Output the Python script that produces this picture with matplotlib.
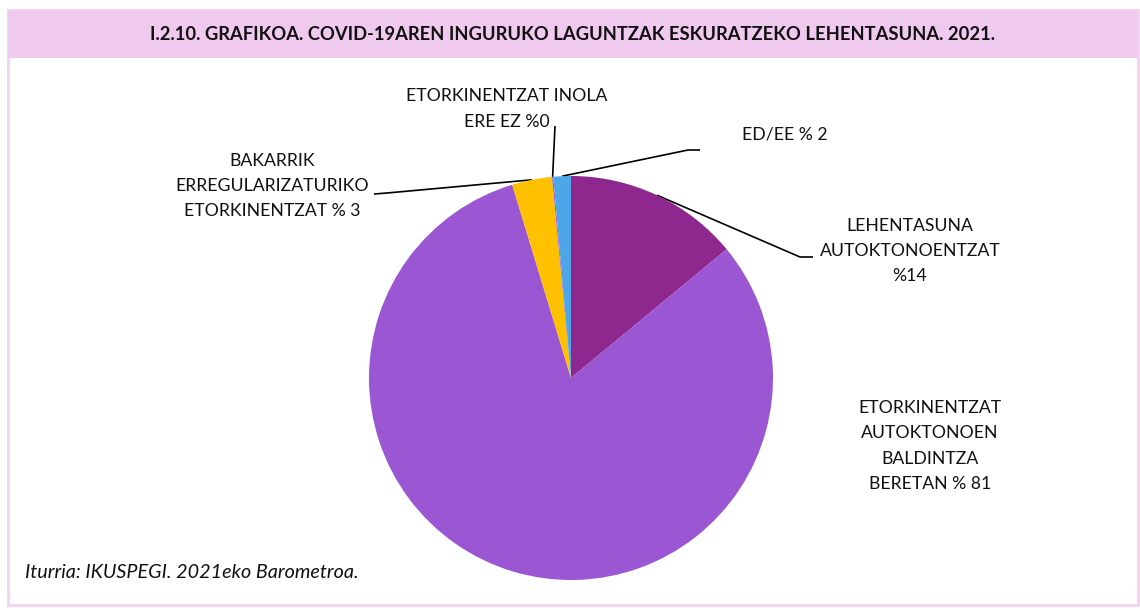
import numpy as np
import matplotlib
matplotlib.use("Agg")
import matplotlib.pyplot as plt
from matplotlib.patches import Rectangle

# ---- data ----
categories = [
    "LEHENTASUNA\nAUTOKTONOENTZAT\n%14",
    "ETORKINENTZAT\nAUTOKTONOEN\nBALDINTZA\nBERETAN % 81",
    "BAKARRIK\nERREGULARIZATURIKO\nETORKINENTZAT % 3",
    "ETORKINENTZAT INOLA\nERE EZ %0",
    "ED/EE % 2",
]
values = [14.0, 81.3, 3.2, 0.1, 1.4]
colors = ["#8E278E", "#9B57D3", "#FFC000", "#9B57D3", "#4CA6E8"]
title = "I.2.10. GRAFIKOA. COVID-19AREN INGURUKO LAGUNTZAK ESKURATZEKO LEHENTASUNA. 2021."
source = "Iturria: IKUSPEGI. 2021eko Barometroa."

W, H = 1140, 608
fig = plt.figure(figsize=(W / 100, H / 100), dpi=100)
plt.rcParams['font.family'] = ['Lato', 'DejaVu Sans']

# overlay axes in pixel coordinates
ov = fig.add_axes([0, 0, 1, 1])
ov.set_xlim(0, W)
ov.set_ylim(H, 0)
ov.axis("off")

# frame and title band
ov.add_patch(Rectangle((8, 10), 1130, 595, facecolor="white", edgecolor="#F2D2F0", lw=2, zorder=0))
ov.add_patch(Rectangle((8, 10), 1130, 48, facecolor="#F0C9EE", edgecolor="none", zorder=1))
ov.text(573, 34, title, ha="center", va="center", fontsize=13.2, fontweight="bold",
        color="#111111", zorder=2)
ov.text(25, 572, source, ha="left", va="center", fontsize=14.2, style="italic", color="#111111")

# pie
cx, cy, R = 571, 378, 202
pax = fig.add_axes([(cx - R) / W, (H - cy - R) / H, 2 * R / W, 2 * R / H])
pax.pie(values, colors=colors, startangle=90, counterclock=False, radius=1.0,
        wedgeprops=dict(linewidth=0))
pax.set_xlim(-1, 1)
pax.set_ylim(-1, 1)
pax.set_aspect("auto")
pax.axis("off")

# label layout (text center, leader elbow, leader end)
label_pos = [(910, 251), (930, 446), (272, 186), (507, 109), (785, 135)]
leader_pts = [
    [(800, 257), (813, 257)],
    None,
    [(387, 193), (374, 194)],
    [(555, 126)],
    [(688, 150), (700, 150)],
]

total = sum(values)
cum = 0.0
for i, v in enumerate(values):
    mid = (cum + v / 2) / total * 2 * np.pi
    cum += v
    sx = cx + R * np.sin(mid)
    sy = cy - R * np.cos(mid)
    ov.text(label_pos[i][0], label_pos[i][1], categories[i], ha="center", va="center",
            fontsize=12.7, color="#111111", linespacing=1.7)
    if leader_pts[i] is not None:
        xs = [sx] + [p[0] for p in leader_pts[i]]
        ys = [sy] + [p[1] for p in leader_pts[i]]
        ov.plot(xs, ys, color="black", lw=1.2, solid_capstyle="butt")

fig.savefig("out.png", dpi=100)
